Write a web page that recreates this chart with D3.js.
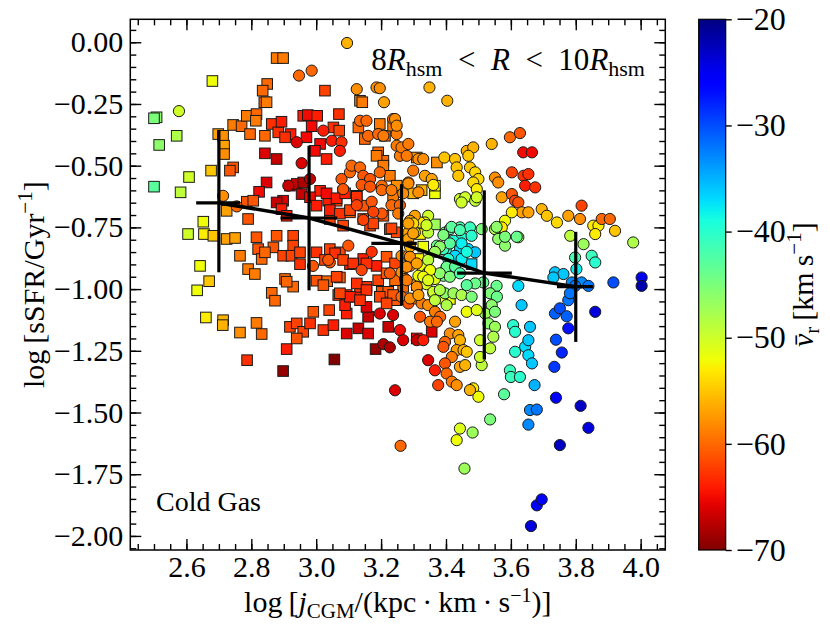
<!DOCTYPE html>
<html>
<head>
<meta charset="utf-8">
<script src="https://cdn.jsdelivr.net/npm/d3@7"></script>
<style>
body { margin: 0; background: #fff; }
text { font-family: "Liberation Serif", "DejaVu Serif", serif; }
</style>
</head>
<body>
<div id="chart-area"></div>
<script>
// [log j_CGM, log sSFR, mean v_r]
const squares = [
	[2.878,-0.064,-59],[2.898,-0.064,-59],[2.68,-0.157,-52],[3.027,-0.196,-62],[3.135,-0.237,-59],[3.142,-0.243,-59],
	[2.849,-0.169,-60],[2.835,-0.196,-60],[2.84,-0.243,-60],[2.508,-0.304,-46],[2.5,-0.308,-45],
	[2.57,-0.379,-48],[2.516,-0.416,-46],[2.5,-0.585,-43],[2.608,-0.546,-50],[2.582,-0.608,-49],[2.676,-0.52,-55],
	[2.698,-0.372,-57],[2.713,-0.379,-58],[2.716,-0.419,-57],[2.716,-0.453,-58],
	[2.744,-0.335,-59],[2.77,-0.34,-60],[2.786,-0.298,-59],[2.796,-0.372,-60],[2.816,-0.291,-60],[2.814,-0.318,-59],[2.842,-0.379,-60],[2.847,-0.243,-59],
	[2.863,-0.331,-63],[2.883,-0.365,-63],[2.893,-0.322,-64],[2.921,-0.372,-64],[2.904,-0.385,-63],
	[2.96,-0.298,-64],[2.974,-0.295,-65],[3.003,-0.298,-64],[2.986,-0.34,-65],[2.97,-0.385,-65],
	[3.07,-0.291,-63],[3.053,-0.345,-63],[3.071,-0.358,-62],
	[3.13,-0.345,-60],[3.15,-0.392,-60],[3.196,-0.331,-59],[3.212,-0.379,-60],[3.237,-0.338,-59],[3.191,-0.446,-60],[3.207,-0.48,-60],
	[3.012,-0.412,-65],[2.996,-0.44,-65],[3.032,-0.473,-64],
	[2.842,-0.45,-66],[2.878,-0.473,-67],[2.847,-0.568,-66],[2.824,-0.606,-65],[2.744,-0.507,-61],[2.734,-0.52,-61],
	[2.919,-0.581,-68],[2.94,-0.574,-67],[2.96,-0.568,-68],[2.955,-0.615,-67],[2.898,-0.642,-66],[2.878,-0.649,-67],
	[3.012,-0.602,-64],[3.037,-0.642,-64],[2.981,-0.628,-65],[3.001,-0.662,-64],
	[3.186,-0.46,-59],[3.207,-0.5,-59],[3.227,-0.541,-59],[3.248,-0.581,-58],[3.237,-0.622,-59],
	[2.724,-0.683,-57],[2.786,-0.646,-61],[2.806,-0.642,-61],[2.79,-0.716,-61],[2.893,-0.676,-64],[2.909,-0.703,-64],
	[3.125,-0.622,-61],[3.083,-0.608,-61],[3.063,-0.642,-62],[3.104,-0.689,-61],[3.145,-0.662,-61],
	[3.042,-0.716,-62],[3.083,-0.743,-62],[3.145,-0.716,-62],[3.166,-0.743,-62],[3.207,-0.703,-61],[3.227,-0.757,-62],[3.248,-0.77,-62],
	[2.652,-0.727,-52],[2.605,-0.777,-50],[2.654,-0.777,-53],[2.683,-0.784,-55],[2.724,-0.797,-57],[2.75,-0.793,-57],
	[2.816,-0.79,-61],[2.821,-0.838,-61],[2.878,-0.784,-61],[2.868,-0.831,-61],[2.929,-0.784,-62],[2.929,-0.824,-62],
	[2.765,-0.865,-59],[2.79,-0.919,-59],[2.811,-0.939,-59],[2.832,-0.878,-60],[2.842,-0.851,-60],
	[2.898,-0.865,-62],[2.924,-0.865,-62],[2.95,-0.899,-63],[2.95,-0.851,-62],[3.001,-0.851,-63],[3.042,-0.838,-62],[3.073,-0.851,-62],
	[3.104,-0.899,-64],[3.145,-0.878,-64],[3.186,-0.906,-64],
	[2.642,-0.906,-52],[2.633,-1.005,-52],[2.67,-0.968,-55],
	[2.904,-0.959,-60],[2.929,-0.99,-60],[3.001,-0.966,-61],[3.034,-0.968,-60],[3.073,-0.953,-61],
	[2.66,-1.115,-53],[2.713,-1.126,-56],[2.712,-1.146,-56],[2.765,-1.176,-58],[2.816,-1.137,-59],[2.832,-1.182,-60],
	[2.787,-1.288,-63],[2.909,-1.243,-64],[2.898,-1.332,-69],[3.056,-1.285,-70],[3.183,-1.243,-69],
	[2.863,-1.015,-60],[2.873,-1.047,-60],[2.909,-0.97,-60],[3.022,-0.984,-61],
	[2.991,-1.092,-61],[3.04,-1.085,-62],[2.919,-1.153,-62],[2.94,-1.139,-62],[2.96,-1.173,-62],[2.94,-1.2,-61],
	[2.981,-1.139,-63],[3.022,-1.166,-63],[3.053,-1.146,-64],[3.068,-1.024,-63],[3.094,-1.024,-63],[3.125,-1.031,-64],[3.135,-0.991,-63],[3.155,-0.991,-63],[3.094,-1.099,-64],[3.089,-1.065,-64],
	[3.094,-1.18,-66],[3.13,-1.159,-67],[3.16,-1.18,-66],[3.16,-1.112,-67],[3.155,-1.072,-66],[3.222,-1.153,-67],
	[3.202,-1.011,-61],[3.222,-1.011,-61],[3.248,-1.045,-61],
	[3.268,-0.991,-60],[3.31,-0.984,-57],[3.412,-1.04,-52],[3.31,-1.2,-65],[3.356,-1.173,-66],
	[3.31,-0.467,-58],[3.372,-0.487,-58],[3.366,-0.612,-52],[3.366,-0.581,-52],[3.32,-0.777,-53],[3.315,-0.878,-53],[3.366,-0.738,-47],
	[3.479,-0.899,-37],[3.4,-0.84,-39],
	[3.032,-0.612,-65],[3.063,-0.632,-64],[3.089,-0.612,-64],[3.125,-0.626,-63],[3.042,-0.68,-64],[3.073,-0.694,-63],[3.104,-0.68,-62],
	[3.176,-0.734,-62],[3.232,-0.754,-62],[3.299,-0.612,-56],[3.325,-0.599,-56],[3.33,-0.828,-52],
	[3.058,-0.855,-63],[3.027,-0.882,-62],[3.083,-0.882,-62],[3.114,-0.896,-63],[3.155,-0.896,-63],[3.217,-0.869,-61],[3.243,-0.896,-62],
	[3.063,-0.95,-62],[3.125,-0.977,-63],[3.104,-1.031,-64],[3.073,-1.017,-62],[3.155,-1.004,-63],[3.191,-0.964,-62],[3.217,-0.936,-61],
	[3.243,-0.964,-60],[3.135,-1.045,-63],[3.196,-1.031,-62],[3.237,-1.024,-61],[3.217,-1.058,-62]
]

const circles = [
	[3.095,-0.003,-56],[2.947,-0.135,-60],[2.986,-0.115,-60],
	[3.125,-0.19,-58],[3.186,-0.183,-58],[3.196,-0.186,-58],[3.209,-0.243,-57],[2.577,-0.279,-50],
	[3.022,-0.358,-64],[3.048,-0.399,-64],[3.078,-0.405,-63],[3.073,-0.44,-64],
	[3.135,-0.318,-60],[3.155,-0.318,-60],[3.16,-0.379,-60],[3.191,-0.372,-60],[3.207,-0.379,-59],[3.237,-0.311,-59],[3.248,-0.372,-59],
	[3.248,-0.419,-59],[3.258,-0.46,-59],[2.94,-0.405,-66],[2.955,-0.49,-66],[2.914,-0.581,-67],[2.981,-0.554,-67],
	[3.078,-0.554,-61],[3.104,-0.527,-60],[3.109,-0.5,-60],[3.135,-0.507,-60],[3.145,-0.541,-61],[3.166,-0.554,-61],[3.196,-0.527,-60],[3.202,-0.581,-60],[3.083,-0.595,-61],
	[2.713,-0.622,-58],[2.755,-0.665,-60],[2.99,-0.906,-61],[3.042,-0.892,-61],[3.099,-0.824,-61],
	[3.349,-0.183,-56],[3.404,-0.237,-56],[3.243,-0.311,-58],[3.248,-0.338,-58],
	[3.263,-0.426,-59],[3.284,-0.412,-59],[3.279,-0.46,-59],[3.299,-0.52,-59],[3.315,-0.473,-58],[3.33,-0.473,-58],[3.284,-0.568,-59],[3.315,-0.608,-58],[3.335,-0.541,-57],[3.356,-0.554,-57],
	[3.395,-0.467,-55],[3.428,-0.473,-55],[3.433,-0.507,-55],[3.438,-0.541,-55],[3.464,-0.44,-56],[3.484,-0.426,-56],[3.469,-0.46,-55],[3.474,-0.507,-55],[3.49,-0.527,-54],[3.5,-0.554,-54],[3.484,-0.568,-54],[3.495,-0.595,-53],
	[3.443,-0.635,-50],[3.459,-0.628,-50],[3.448,-0.649,-50],[3.49,-0.642,-49],[3.495,-0.628,-50],
	[3.551,-0.548,-58],[3.561,-0.568,-58],[3.572,-0.628,-57],[3.603,-0.527,-62],[3.603,-0.615,-61],[3.613,-0.642,-62],[3.623,-0.649,-61],[3.639,-0.541,-63],[3.644,-0.581,-64],[3.654,-0.534,-63],[3.675,-0.588,-63],
	[3.634,-0.689,-57],[3.654,-0.689,-57],[3.695,-0.676,-56],[3.711,-0.703,-55],[3.742,-0.73,-54],[3.777,-0.703,-57],[3.813,-0.716,-58],[3.818,-0.662,-62],
	[3.597,-0.385,-60],[3.628,-0.368,-61],[3.541,-0.412,-56],[3.638,-0.446,-65],[3.665,-0.446,-65],
	[3.582,-0.723,-52],[3.572,-0.75,-53],[3.551,-0.757,-48],[3.561,-0.797,-46],[3.582,-0.824,-46],[3.623,-0.79,-47],[3.603,-0.689,-53],
	[3.854,-0.743,-53],[3.87,-0.743,-53],[3.86,-0.777,-53],[3.88,-0.716,-60],[3.905,-0.716,-60],[3.921,-0.764,-55],[3.977,-0.811,-48],
	[3.783,-0.784,-49],[3.824,-0.818,-47],[3.798,-0.872,-42],[3.849,-0.865,-41],[3.86,-0.892,-40],[3.802,-0.919,-38],
	[3.736,-0.932,-36],[3.762,-0.939,-36],[3.731,-0.953,-36],[3.788,-0.973,-33],[3.818,-0.973,-33],[3.798,-0.987,-32],[3.839,-0.987,-32],
	[3.916,-0.973,-30],[4.003,-0.953,-25],[4.003,-0.987,-22],[3.623,-0.987,-37],
	[3.397,-0.771,-44],[3.412,-0.757,-43],[3.443,-0.75,-42],[3.474,-0.75,-41],[3.448,-0.79,-40],[3.479,-0.784,-40],[3.51,-0.757,-45],[3.423,-0.804,-39],
	[3.443,-0.838,-37],[3.469,-0.838,-37],[3.49,-0.851,-36],[3.428,-0.865,-37],[3.392,-0.838,-41],[3.372,-0.824,-44],[3.407,-0.878,-40],[3.448,-0.878,-38],
	[3.402,-0.912,-42],[3.392,-0.946,-44],[3.556,-0.748,-46],[3.582,-0.788,-45],[3.618,-0.788,-44],
	[3.345,-0.703,-50],[3.335,-0.73,-52],[3.32,-0.73,-53],[3.345,-0.771,-49],[3.304,-0.771,-52],
	[3.304,-0.703,-57],[3.289,-0.723,-57],[3.284,-0.771,-57],[3.284,-0.797,-57],
	[3.263,-0.865,-58],[3.284,-0.865,-58],[3.289,-0.906,-58],[3.263,-0.932,-58],[3.274,-0.959,-58],
	[3.325,-0.906,-52],[3.345,-0.932,-52],[3.366,-0.959,-51],[3.315,-0.946,-52],[3.34,-0.98,-51],[3.556,-0.987,-44],[3.515,-0.973,-44],
	[3.361,-1.017,-52],[3.387,-1.038,-52],
	[3.397,-1.017,-46],[3.423,-1.017,-47],[3.448,-1.024,-48],[3.479,-1.031,-45],[3.49,-0.977,-44],[3.464,-0.984,-43],[3.536,-1.017,-45],[3.557,-1.031,-44],
	[3.541,-1.065,-46],[3.521,-1.099,-47],[3.551,-1.092,-45],[3.531,-1.139,-46],[3.551,-1.153,-47],[3.546,-1.193,-48],[3.536,-1.24,-49],
	[3.464,-1.092,-52],[3.495,-1.085,-51],[3.505,-1.207,-50],[3.51,-1.308,-49],[3.505,-1.275,-50],
	[3.263,-1.031,-60],[3.284,-1.058,-61],[3.304,-1.038,-60],[3.325,-1.058,-59],[3.345,-1.065,-58],[3.366,-1.092,-59],[3.382,-1.112,-60],[3.32,-1.112,-61],
	[3.351,-1.132,-59],[3.372,-1.132,-60],[3.428,-1.132,-57],[3.412,-1.18,-58],[3.438,-1.186,-57],[3.443,-1.207,-56],[3.397,-1.214,-60],[3.392,-1.234,-61],
	[3.433,-1.247,-57],[3.454,-1.247,-56],[3.464,-1.254,-55],[3.418,-1.275,-59],[3.397,-1.301,-61],[3.443,-1.315,-57],[3.459,-1.308,-56],[3.402,-1.342,-60],
	[3.376,-1.389,-62],[3.418,-1.375,-59],[3.433,-1.389,-58],
	[3.258,-1.166,-65],[3.268,-1.207,-66],[3.31,-1.207,-67],[3.33,-1.207,-64],[3.345,-1.288,-66],[3.366,-1.329,-64],[3.243,-1.41,-66],
	[3.207,-1.223,-68],[3.227,-1.236,-68],[3.196,-1.099,-66],[3.237,-1.105,-66],[3.26,-1.635,-60],
	[3.484,-1.402,-53],[3.5,-1.436,-52],[3.474,-1.409,-56],[3.443,-1.565,-51],[3.433,-1.612,-52],[3.482,-1.581,-47],[3.536,-1.528,-45],[3.457,-1.727,-47],[3.579,-1.426,-43],
	[3.597,-1.329,-41],[3.6,-1.356,-41],[3.628,-1.356,-40],
	[3.607,-1.146,-40],[3.613,-1.173,-40],[3.659,-1.153,-36],[3.633,-1.065,-36],[3.613,-1.254,-40],[3.644,-1.234,-37],[3.654,-1.207,-36],[3.654,-1.268,-37],[3.665,-1.301,-36],[3.673,-1.389,-35],
	[3.659,-1.49,-33],[3.68,-1.488,-32],[3.654,-1.549,-33],
	[3.736,-1.099,-31],[3.751,-1.078,-30],[3.772,-1.11,-31],[3.777,-1.159,-27],[3.739,-1.205,-30],[3.757,-1.257,-28],[3.734,-1.315,-29],[3.739,-1.44,-26],
	[3.777,-1.045,-32],[3.782,-1.017,-32],[3.86,-1.092,-24],[3.815,-1.473,-23],[3.839,-1.562,-24],[3.751,-1.632,-23],
	[3.68,-1.876,-25],[3.695,-1.852,-26],[3.662,-1.96,-24],
	[3.14,-0.578,-61],[3.166,-0.585,-61],[3.202,-0.599,-60],[3.232,-0.599,-59],[3.171,-0.646,-61],[3.202,-0.694,-61],[3.232,-0.66,-60],[3.145,-0.72,-62],[3.176,-0.687,-62],[3.125,-0.66,-62],
	[3.284,-0.572,-58],[3.268,-0.612,-58],[3.258,-0.66,-60],[3.253,-0.694,-59],
	[3.361,-0.578,-53],[3.299,-0.734,-54],[3.34,-0.741,-50],[3.284,-0.734,-57],[3.299,-0.774,-57],[3.289,-0.828,-56],
	[3.417,-0.748,-43],[3.443,-0.761,-42],[3.392,-0.781,-45],[3.412,-0.815,-43],[3.381,-0.828,-46],[3.366,-0.849,-47],[3.345,-0.882,-49],
	[3.448,-0.815,-38],[3.464,-0.849,-39],
	[3.402,-0.91,-44],[3.428,-0.91,-43],[3.381,-0.936,-46],[3.412,-0.95,-45],[3.443,-0.936,-42],
	[3.351,-0.923,-52],[3.33,-0.95,-52],[3.345,-0.964,-51],[3.361,-1.011,-50],[3.381,-1.004,-48],[3.366,-1.045,-49],[3.402,-1.065,-48],
	[3.289,-0.869,-58],[3.279,-0.91,-58],[3.31,-0.896,-57],[3.279,-0.964,-59],[3.31,-0.991,-58],[3.289,-1.038,-58],[3.315,-1.024,-57],
	[3.037,-0.882,-61],[3.14,-0.923,-62],[3.171,-0.849,-63],[3.227,-0.936,-61]
]

// binned medians with spreads
const binX = [2.70, 2.978, 3.263, 3.518, 3.80]
const binY = [-0.651, -0.712, -0.815, -0.935, -0.99]
const binXLo = [2.63, 2.89, 3.17, 3.434, 3.742]
const binXHi = [2.765, 3.065, 3.31, 3.603, 3.853]
const binYLo = [-0.932, -1.005, -1.065, -1.285, -1.214]
const binYHi = [-0.355, -0.419, -0.575, -0.60, -0.768]

const xTicks = [2.6, 2.8, 3.0, 3.2, 3.4, 3.6, 3.8, 4.0]
const yTicks = [0, -0.25, -0.5, -0.75, -1.0, -1.25, -1.5, -1.75, -2.0]
const cbarTicks = [-20, -30, -40, -50, -60, -70]

const FONT = '"Liberation Serif", "DejaVu Serif", serif'
const mLeft = 130.3, mRight = 665.3, mTop = 19.3, mBottom = 550
const cbLeft = 698.7, cbRight = 725.7

const svg = d3.select("#chart-area").append("svg")
	.attr("width", 830)
	.attr("height", 626)
	.attr("font-family", FONT)

const x = d3.scaleLinear().domain([2.427, 4.076]).range([mLeft, mRight])
const y = d3.scaleLinear().domain([-2.057, 0.093]).range([mBottom, mTop])

// matplotlib "jet", reversed so that -70 is dark red
function jet(t) {
	const seg = pts => {
		for (let i = 1; i < pts.length; i++) {
			if (t <= pts[i][0]) {
				const [x0, y0] = pts[i - 1], [x1, y1] = pts[i]
				return y0 + (y1 - y0) * (t - x0) / (x1 - x0)
			}
		}
		return pts[pts.length - 1][1]
	}
	const r = seg([[0, 0], [0.35, 0], [0.66, 1], [0.89, 1], [1, 0.5]])
	const g = seg([[0, 0], [0.125, 0], [0.375, 1], [0.64, 1], [0.91, 0], [1, 0]])
	const b = seg([[0, 0.5], [0.11, 1], [0.34, 1], [0.65, 0], [1, 0]])
	return d3.rgb(r * 255, g * 255, b * 255).toString()
}
const tScale = d3.scaleLinear().domain([-20, -70]).range([0, 1]).clamp(true)
const color = v => jet(tScale(v))

// points
const pts = svg.append("g")
pts.selectAll("rect.sq")
	.data(squares)
	.enter().append("rect")
	.attr("class", "sq")
	.attr("x", d => x(d[0]) - 5.3)
	.attr("y", d => y(d[1]) - 5.3)
	.attr("width", 10.6)
	.attr("height", 10.6)
	.attr("fill", d => color(d[2]))
	.attr("stroke", "#1a1a1a")
	.attr("stroke-width", 1)

pts.selectAll("circle")
	.data(circles)
	.enter().append("circle")
	.attr("cx", d => x(d[0]))
	.attr("cy", d => y(d[1]))
	.attr("r", 5.6)
	.attr("fill", d => color(d[2]))
	.attr("stroke", "#1a1a1a")
	.attr("stroke-width", 1)

// median line with error bars
const bins = binX.map((bx, i) => ({ x: bx, y: binY[i], xlo: binXLo[i], xhi: binXHi[i], ylo: binYLo[i], yhi: binYHi[i] }))
const eb = svg.append("g").attr("stroke", "#000").attr("stroke-width", 3.2)
eb.selectAll("line.v").data(bins).enter().append("line")
	.attr("class", "v")
	.attr("x1", d => x(d.x)).attr("x2", d => x(d.x))
	.attr("y1", d => y(d.ylo)).attr("y2", d => y(d.yhi))
eb.selectAll("line.h").data(bins).enter().append("line")
	.attr("class", "h")
	.attr("x1", d => x(d.xlo)).attr("x2", d => x(d.xhi))
	.attr("y1", d => y(d.y)).attr("y2", d => y(d.y))
svg.append("path")
	.datum(bins)
	.attr("fill", "none")
	.attr("stroke", "#000")
	.attr("stroke-width", 3.5)
	.attr("d", d3.line().x(d => x(d.x)).y(d => y(d.y)))

// axes, ticks pointing inward on all sides
const xMinor = d3.range(49, 82).map(i => i * 0.05)
const yMinor = d3.range(-41, 2).map(i => i * 0.05)

function styleAxis(g) {
	g.attr("font-family", FONT).attr("font-size", 30)
	g.select(".domain").remove()
	g.selectAll(".tick line").attr("stroke", "#000").attr("stroke-width", 1.4)
	g.selectAll(".tick text").attr("fill", "#000")
}

svg.append("g").attr("transform", `translate(0,${mBottom})`)
	.call(d3.axisBottom(x).tickValues(xMinor).tickSize(-6).tickFormat(""))
	.call(styleAxis)
svg.append("g").attr("transform", `translate(0,${mBottom})`)
	.call(d3.axisBottom(x).tickValues(xTicks).tickSize(-11).tickPadding(6).tickFormat(d3.format(".1f")))
	.call(styleAxis)
svg.append("g").attr("transform", `translate(0,${mTop})`)
	.call(d3.axisTop(x).tickValues(xMinor).tickSize(-6).tickFormat(""))
	.call(styleAxis)
svg.append("g").attr("transform", `translate(0,${mTop})`)
	.call(d3.axisTop(x).tickValues(xTicks).tickSize(-11).tickFormat(""))
	.call(styleAxis)

svg.append("g").attr("transform", `translate(${mLeft},0)`)
	.call(d3.axisLeft(y).tickValues(yMinor).tickSize(-6).tickFormat(""))
	.call(styleAxis)
svg.append("g").attr("transform", `translate(${mLeft},0)`)
	.call(d3.axisLeft(y).tickValues(yTicks).tickSize(-11).tickPadding(7).tickFormat(d3.format(".2f")))
	.call(styleAxis)
svg.append("g").attr("transform", `translate(${mRight},0)`)
	.call(d3.axisRight(y).tickValues(yMinor).tickSize(-6).tickFormat(""))
	.call(styleAxis)
svg.append("g").attr("transform", `translate(${mRight},0)`)
	.call(d3.axisRight(y).tickValues(yTicks).tickSize(-11).tickFormat(""))
	.call(styleAxis)

svg.append("rect")
	.attr("x", mLeft).attr("y", mTop)
	.attr("width", mRight - mLeft).attr("height", mBottom - mTop)
	.attr("fill", "none").attr("stroke", "#000").attr("stroke-width", 1.5)

// colorbar
const cy = d3.scaleLinear().domain([-70, -20]).range([mBottom, mTop])
const grad = svg.append("defs").append("linearGradient")
	.attr("id", "cbar").attr("x1", 0).attr("y1", 0).attr("x2", 0).attr("y2", 1)
grad.selectAll("stop").data(d3.range(0, 51)).enter().append("stop")
	.attr("offset", i => i / 50)
	.attr("stop-color", i => jet(i / 50))
svg.append("rect")
	.attr("x", cbLeft).attr("y", mTop)
	.attr("width", cbRight - cbLeft).attr("height", mBottom - mTop)
	.attr("fill", "url(#cbar)")
	.attr("stroke", "#000").attr("stroke-width", 1.2)
svg.append("g").attr("transform", `translate(${cbRight},0)`)
	.call(d3.axisRight(cy).tickValues(cbarTicks).tickSize(6).tickPadding(4).tickFormat(d3.format("d")))
	.call(styleAxis)
	.attr("font-size", 32)

// labels
const xl = svg.append("text")
	.attr("x", (mLeft + mRight) / 2).attr("y", 612)
	.attr("text-anchor", "middle").attr("font-size", 30)
xl.append("tspan").text("log\u2009[")
xl.append("tspan").attr("font-style", "italic").text("j")
xl.append("tspan").attr("font-size", 21).attr("dy", 6).text("CGM")
xl.append("tspan").attr("dy", -6).text("/(kpc\u2009·\u2009km\u2009·\u2009s")
xl.append("tspan").attr("font-size", 20).attr("dy", -10).text("−1")
xl.append("tspan").attr("dy", 10).text(")]")

const yl = svg.append("text")
	.attr("transform", `translate(44,${(mTop + mBottom) / 2}) rotate(-90)`)
	.attr("text-anchor", "middle").attr("font-size", 30)
yl.append("tspan").text("log\u2009[sSFR/Gyr")
yl.append("tspan").attr("font-size", 21).attr("dy", -12).text("−1")
yl.append("tspan").attr("dy", 12).text("]")

const cl = svg.append("text")
	.attr("transform", `translate(813,${(mTop + mBottom) / 2}) rotate(-90)`)
	.attr("text-anchor", "middle").attr("font-size", 30)
cl.append("tspan").attr("font-style", "italic").text("v\u0304")
cl.append("tspan").attr("font-size", 21).attr("dy", 6).text("r")
cl.append("tspan").attr("dy", -6).text("\u2009[km\u2009s")
cl.append("tspan").attr("font-size", 21).attr("dy", -12).text("−1")
cl.append("tspan").attr("dy", 12).text("]")

const tl = svg.append("text")
	.attr("x", 645).attr("y", 70)
	.attr("text-anchor", "end").attr("font-size", 31)
tl.append("tspan").text("8")
tl.append("tspan").attr("font-style", "italic").text("R")
tl.append("tspan").attr("font-size", 22).attr("dy", 6).text("hsm")
tl.append("tspan").attr("dy", -6).text("\u2002<\u2002")
tl.append("tspan").attr("font-style", "italic").text("R")
tl.append("tspan").text("\u2002<\u200210")
tl.append("tspan").attr("font-style", "italic").text("R")
tl.append("tspan").attr("font-size", 22).attr("dy", 6).text("hsm")

svg.append("text")
	.attr("x", 156).attr("y", 511)
	.attr("font-size", 28)
	.text("Cold Gas")
</script>
</body>
</html>
